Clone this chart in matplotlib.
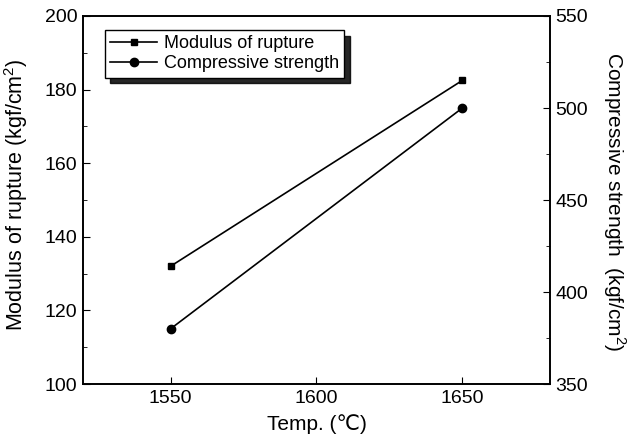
import matplotlib
matplotlib.use("Agg")
from matplotlib import pyplot as plt
from matplotlib.ticker import MultipleLocator

plt.rcParams['font.family'] = ['Liberation Sans', 'DejaVu Sans']
plt.rcParams['mathtext.fontset'] = 'custom'
plt.rcParams['mathtext.rm'] = 'Liberation Sans'

# Data
temps = [1550, 1650]
rupture = [132, 182.5]
compressive = [380, 500]

fig = plt.figure(figsize=(6.31, 4.44), dpi=100)
ax = fig.add_axes([0.1315, 0.135, 0.74, 0.829])
ax2 = ax.twinx()

l1, = ax.plot(temps, rupture, color="black", lw=1.2, marker="s", ms=5)
l2, = ax2.plot(temps, compressive, color="black", lw=1.2, marker="o", ms=6)

ax.set_xlim(1520, 1680)
ax.set_ylim(100, 200)
ax2.set_ylim(350, 550)
ax.set_xticks([1550, 1600, 1650])
ax.yaxis.set_major_locator(MultipleLocator(20))
ax.yaxis.set_minor_locator(MultipleLocator(10))
ax2.yaxis.set_major_locator(MultipleLocator(50))
ax2.yaxis.set_minor_locator(MultipleLocator(25))

for a in (ax, ax2):
	a.tick_params(which="both", direction="in", labelsize=14, pad=4)
	a.tick_params(which="major", length=5)
	a.tick_params(which="minor", length=3)
	for s in a.spines.values():
		s.set_linewidth(1.2)

ax.set_xlabel("Temp. (\u2103)", fontsize=15)
ax.set_ylabel("Modulus of rupture (kgf/cm$^2$)", fontsize=15.5)
ax2.set_ylabel("Compressive strength  (kgf/cm$^2$)", fontsize=15, rotation=270)
# label anchors: xlabel top edge, ylabel right edge
ax.xaxis.set_label_coords(0.5, -0.082)
ax.yaxis.set_label_coords(-0.113, 0.515)
ax2.yaxis.set_label_coords(1.166, 0.495)

leg = ax.legend([l1, l2], ["Modulus of rupture", "Compressive strength"],
                loc="upper left", bbox_to_anchor=(0.047, 0.962), borderaxespad=0,
                fontsize=13, frameon=True, fancybox=False,
                shadow={"color": "black", "alpha": 0.85, "ox": 4, "oy": -4},
                edgecolor="black", handlelength=2.6, handletextpad=0.35,
                borderpad=0.3, labelspacing=0.15)
leg.get_frame().set_linewidth(1.0)

fig.savefig("out.png", dpi=100)
